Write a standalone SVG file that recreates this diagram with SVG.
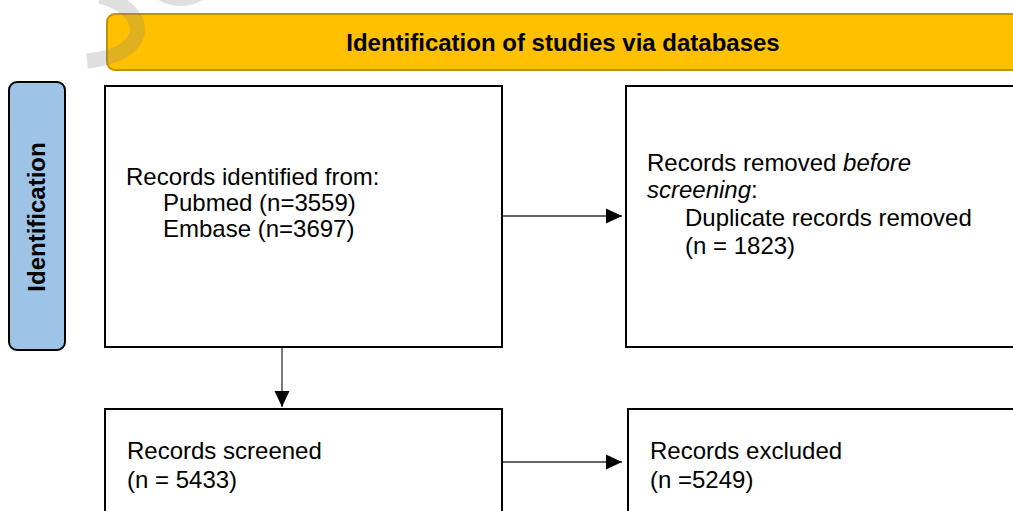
<svg xmlns="http://www.w3.org/2000/svg" width="1013" height="511" viewBox="0 0 1013 511">
<style>
.box{fill:#fff;stroke:#000;stroke-width:2}
.t{font-family:"Liberation Sans",Arial,sans-serif;font-size:24px;fill:#000}
.b{font-family:"Liberation Sans",Arial,sans-serif;font-weight:bold;fill:#000}
.conn{stroke:#333;stroke-width:1.3;fill:none}
.wm{stroke:#808080;stroke-opacity:0.25;stroke-width:15;fill:none}
</style>
<defs>
<marker id="ah" markerWidth="16" markerHeight="16" viewBox="0 0 16 16" refX="16" refY="8" orient="auto" markerUnits="userSpaceOnUse">
<path d="M0,0.5 L16,8 L0,15.5 Z" fill="#000"/>
</marker>
</defs>
<rect width="1013" height="511" fill="#fff"/>
<g id="header">
<rect x="107" y="14" width="912" height="56" rx="8" fill="#FFC000" stroke="#BF9000" stroke-width="2"/>
<text class="b" x="563" y="51" font-size="24" text-anchor="middle">Identification of studies via databases</text>
</g>
<g id="phase-identification">
<rect x="9" y="82" width="56" height="268" rx="8" fill="#9DC3E6" stroke="#000" stroke-width="2"/>
<text class="b" x="45" y="217" font-size="24" text-anchor="middle" transform="rotate(-90 45 217)">Identification</text>
</g>
<g id="records-identified">
<rect class="box" x="105" y="86" width="397" height="261"/>
<text class="t" x="126" y="185">Records identified from:</text>
<text class="t" x="163" y="211">Pubmed (n=3559)</text>
<text class="t" x="163" y="237">Embase (n=3697)</text>
</g>
<g id="records-removed">
<rect class="box" x="626" y="86" width="400" height="261"/>
<text class="t" x="647" y="171">Records removed <tspan font-style="italic">before</tspan></text>
<text class="t" x="647" y="198"><tspan font-style="italic">screening</tspan>:</text>
<text class="t" x="685" y="226">Duplicate records removed</text>
<text class="t" x="685" y="254">(n = 1823)</text>
</g>
<g id="records-screened">
<rect class="box" x="105" y="409" width="397" height="120"/>
<text class="t" x="127" y="459">Records screened</text>
<text class="t" x="127" y="488">(n = 5433)</text>
</g>
<g id="records-excluded">
<rect class="box" x="628" y="409" width="400" height="120"/>
<text class="t" x="650" y="459">Records excluded</text>
<text class="t" x="650" y="488">(n =5249)</text>
</g>
<g id="connectors">
<line class="conn" x1="503" y1="216" x2="622" y2="216" marker-end="url(#ah)"/>
<line class="conn" x1="282" y1="348" x2="282" y2="407" marker-end="url(#ah)"/>
<line class="conn" x1="503" y1="462" x2="622" y2="462" marker-end="url(#ah)"/>
</g>
<g id="watermark">
<path class="wm" d="M100,-4 C152,10 152,55 87,61"/>
<path class="wm" d="M150,-15 Q178,10 208,-12"/>
</g>
</svg>
